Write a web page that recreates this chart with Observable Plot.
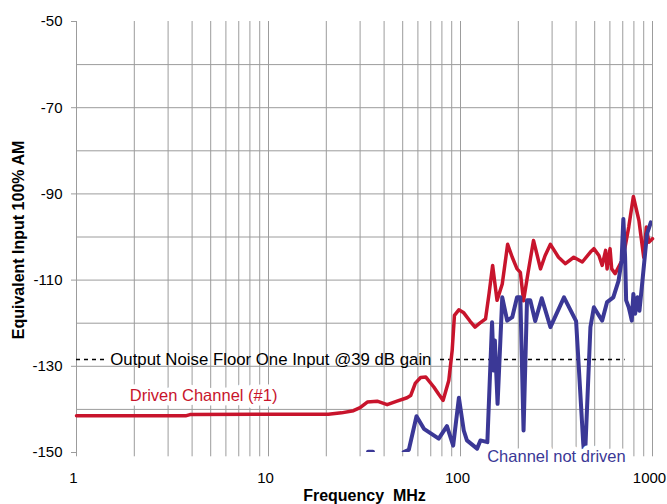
<!DOCTYPE html>
<html>
<head>
<meta charset="utf-8">
<script src="https://cdn.jsdelivr.net/npm/d3@7"></script>
<script src="https://cdn.jsdelivr.net/npm/@observablehq/plot@0.6"></script>
<style>
  html, body { margin: 0; padding: 0; background: white; }
</style>
</head>
<body>
<div id="chart"></div>
<script>
// ---- Data ----
const drivenFreq = [1, 3.7, 3.9, 20.5, 24, 27.7, 30, 32.7, 36.8, 41.5, 46.7, 52.7, 55, 58.2, 62, 66, 72.6, 77, 81.2, 86.9, 90.5, 93, 98, 104, 112, 119, 126, 135, 141, 147, 155, 165, 176, 186, 197, 205, 213, 225, 240, 251, 261, 276, 294, 324, 352, 389, 431, 475, 495, 526, 547, 570, 580, 601, 613, 639, 692, 719, 752, 795, 850, 900, 929, 957, 1000];
const drivenVal = [-141.5, -141.5, -141.2, -141.1, -140.8, -140.3, -139.6, -138.3, -138.1, -138.9, -138.1, -137.3, -136.8, -133.9, -132.6, -132.5, -134.8, -136.5, -137.9, -133.3, -126.3, -118.2, -116.9, -117.6, -119.5, -120.9, -120, -119, -113, -106.6, -114.7, -110.9, -101.7, -104.7, -107.4, -108.2, -114.8, -108.2, -100.8, -104.3, -107.4, -104.3, -101.7, -104.7, -106.2, -104.7, -105.8, -103.5, -102.7, -104.3, -106.6, -103.1, -107.4, -102.7, -107.4, -108.5, -105.5, -102.4, -97.7, -90.6, -96.2, -104.7, -97.7, -101.2, -100.4];

const undrivenFreq = [33, 35, 42, 50.6, 53.8, 59, 64.5, 77, 85, 91.6, 98.1, 104, 108, 122, 127, 138, 146, 149, 151, 156, 165, 175, 186, 197, 205, 213, 222, 231, 245, 265, 294, 346, 400, 436, 442, 448, 475, 495, 526, 547, 580, 625, 666, 690, 705, 720, 729, 752, 766, 780, 795, 812, 835, 855, 880, 911, 936, 980];
const undrivenVal = [-149.8, -149.8, NaN, -149.9, -149.4, -141.6, -144.5, -146.8, -143.9, -148.4, -137.3, -144.9, -147.2, -149.1, -147.2, -147.6, -119.8, -131, -124, -138.7, -114, -119.4, -118.6, -114, -114, -144.9, -114.7, -114.7, -119.5, -114.2, -120.9, -114, -119.5, -148, -151, -148, -120.9, -116.3, -118.2, -119.4, -115.1, -114, -110.1, -105.5, -95.8, -104.7, -114.7, -116.3, -117.8, -119.4, -113.2, -117.8, -114, -117.1, -111.6, -104.7, -99.3, -96.6];

const xTicks = [1, 10, 100, 1000];
const yTicks = [-50, -70, -90, -110, -130, -150];
const hGrid = [-60, -70, -80, -90, -100, -110, -120, -130, -140];
const vGrid = [1, 2, 3, 4, 5, 6, 7, 8, 9, 10, 20, 30, 40, 50, 60, 70, 80, 90, 100, 200, 300, 400, 500, 600, 700, 800, 900, 1000];

const noiseLevel = -128.4;
const noiseSegStart = [1, 78.7];
const noiseSegEnd = [1.43, 720];
const noiseLabel = "Output Noise Floor One Input @39 dB gain";
const noiseLabelFreq = 1.5;

const seriesLabels = ["Driven Channel (#1)", "Channel not driven"];
const seriesLabelFreq = [4.59, 316];
const seriesLabelVal = [-136.8, -150.9];

const xLabel = "Frequency\u00a0 MHz";
const yLabel = "Equivalent Input 100% AM";

const redColor = "#c8142c";
const blueColor = "#3b3896";
const gridColor = "#9c9c9c";

// ---- Tables ----
const driven = drivenFreq.map((f, i) => ({f, v: drivenVal[i]}));
const undriven = undrivenFreq.map((f, i) => ({f, v: undrivenVal[i]}));
const noiseSegs = noiseSegStart.map((s, i) => ({x1: s, x2: noiseSegEnd[i], y: noiseLevel}));
const labelRows = seriesLabels.map((t, i) => ({t, f: seriesLabelFreq[i], v: seriesLabelVal[i]}));

const font = "'Liberation Sans', Arial, Helvetica, sans-serif";

const chart = Plot.plot({
  width: 667,
  height: 504,
  marginLeft: 76,
  marginRight: 15,
  marginTop: 21,
  marginBottom: 52,
  x: {type: "log", domain: [1, 1000]},
  y: {domain: [-150, -50]},
  style: {fontFamily: font, background: "white", color: "black"},
  marks: [
    Plot.ruleY(hGrid, {y: d => d, x1: 1, x2: 1000, stroke: gridColor, strokeWidth: 1}),
    Plot.ruleX(vGrid, {x: d => d, y1: -151, y2: -50, stroke: gridColor, strokeWidth: 1}),
    Plot.axisY({ticks: yTicks, tickSize: 5, tickPadding: 9, stroke: gridColor, fill: "black", fontSize: 15, tickFormat: d => String(d), label: null}),
    Plot.axisX({ticks: xTicks, tickSize: 0, tickPadding: 20, dx: -3, fill: "black", fontSize: 15, tickFormat: d => String(d), label: null}),
    Plot.ruleY(noiseSegs, {y: "y", x1: "x1", x2: "x2", stroke: "black", strokeWidth: 1.5, strokeDasharray: "4,4"}),
    Plot.text([noiseLabel], {x: noiseLabelFreq, y: noiseLevel, text: d => d, textAnchor: "start", fontSize: 16.8, fill: "black"}),
    Plot.text(labelRows.slice(0, 1), {x: "f", y: "v", text: "t", fontSize: 16.5, fill: redColor, stroke: "white", strokeWidth: 9, paintOrder: "stroke"}),
    Plot.line(driven, {x: "f", y: "v", stroke: redColor, strokeWidth: 3.5, strokeLinejoin: "round"}),
    Plot.line(undriven, {x: "f", y: "v", stroke: blueColor, strokeWidth: 4, strokeLinejoin: "round", clip: true}),
    Plot.text(labelRows.slice(1), {x: "f", y: "v", text: "t", fontSize: 16.5, fill: blueColor, stroke: "white", strokeWidth: 9, paintOrder: "stroke"}),
    Plot.text([xLabel], {frameAnchor: "bottom", lineAnchor: "middle", dy: 43, text: d => d, fontSize: 16, fontWeight: "bold", fill: "black"}),
    Plot.text([yLabel], {frameAnchor: "left", textAnchor: "middle", dx: -58, dy: 3, rotate: -90, text: d => d, fontSize: 16, fontWeight: "bold", fill: "black"})
  ]
});
document.getElementById("chart").appendChild(chart);
</script>
</body>
</html>
